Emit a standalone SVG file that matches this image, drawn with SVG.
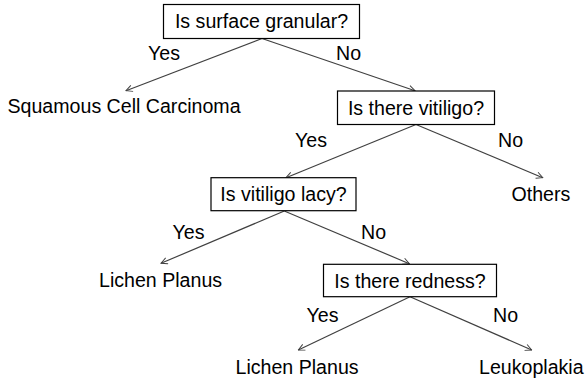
<svg xmlns="http://www.w3.org/2000/svg" width="586" height="381" viewBox="0 0 586 381">
  <defs>
    <marker id="arrow" viewBox="0 0 10 10" refX="9" refY="5" markerWidth="8" markerHeight="8" markerUnits="userSpaceOnUse" orient="auto">
      <path d="M1,1 L9,5 L1,9" fill="none" stroke="#404040" stroke-width="1.2"/>
    </marker>
  </defs>
  <style>
    text { font-family: "Liberation Sans", Arial, sans-serif; font-size: 19.6px; fill: #000; }
    .box { fill: #fff; stroke: #000; stroke-width: 1.2; }
    .edge { stroke: #404040; stroke-width: 1.2; fill: none; marker-end: url(#arrow); }
  </style>
  <rect width="586" height="381" fill="#fff"/>

  <g id="connectors">
    <line class="edge" x1="262" y1="38.5" x2="126" y2="90.7"/>
    <line class="edge" x1="262" y1="38.5" x2="415" y2="90.7"/>
    <line class="edge" x1="416" y1="124.5" x2="286" y2="177.7"/>
    <line class="edge" x1="416" y1="124.5" x2="542.7" y2="177.7"/>
    <line class="edge" x1="284.3" y1="211" x2="161" y2="263.3"/>
    <line class="edge" x1="284.3" y1="211" x2="409.3" y2="263.7"/>
    <line class="edge" x1="410" y1="296.7" x2="298.3" y2="350"/>
    <line class="edge" x1="410" y1="296.7" x2="531.7" y2="350"/>
    <text x="148" y="60">Yes</text>
    <text x="336" y="60">No</text>
    <text x="295" y="147">Yes</text>
    <text x="498" y="147">No</text>
    <text x="172.5" y="238.5">Yes</text>
    <text x="361" y="238.5">No</text>
    <text x="306.5" y="322">Yes</text>
    <text x="493" y="322">No</text>
  </g>

  <g id="q-granular">
    <rect class="box" x="163.5" y="4.5" width="196" height="34"/>
    <text x="261.5" y="28" text-anchor="middle">Is surface granular?</text>
  </g>
  <g id="squamous">
    <text x="7.5" y="113.3">Squamous Cell Carcinoma</text>
  </g>
  <g id="q-vitiligo">
    <rect class="box" x="337.5" y="91" width="157" height="33.5"/>
    <text x="416" y="114.5" text-anchor="middle">Is there vitiligo?</text>
  </g>
  <g id="others">
    <text x="511.5" y="201">Others</text>
  </g>
  <g id="q-lacy">
    <rect class="box" x="211" y="177.7" width="145" height="33"/>
    <text x="283.5" y="201" text-anchor="middle">Is vitiligo lacy?</text>
  </g>
  <g id="lichen-1">
    <text x="99" y="287">Lichen Planus</text>
  </g>
  <g id="q-redness">
    <rect class="box" x="323.5" y="264.3" width="173" height="32.4"/>
    <text x="410" y="287.5" text-anchor="middle">Is there redness?</text>
  </g>
  <g id="lichen-2">
    <text x="235.5" y="374">Lichen Planus</text>
  </g>
  <g id="leukoplakia">
    <text x="479" y="374">Leukoplakia</text>
  </g>
</svg>
